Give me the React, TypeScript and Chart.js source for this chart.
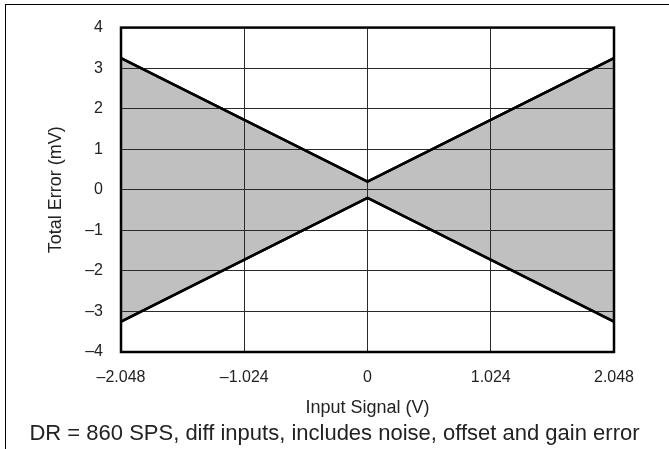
import React, { useEffect, useRef } from "react";
import { Chart, registerables } from "chart.js";

Chart.register(...registerables);

const xTicks = [-2.048, -1.024, 0, 1.024, 2.048];
const yTicks = [-4, -3, -2, -1, 0, 1, 2, 3, 4];
const upperX = [-2.048, 0, 2.048];
const upperY = [3.25, 0.2, 3.25];
const lowerX = [-2.048, 0, 2.048];
const lowerY = [-3.25, -0.2, -3.25];
const xTitle = "Input Signal (V)";
const yTitle = "Total Error (mV)";
const caption = "DR = 860 SPS, diff inputs, includes noise, offset and gain error";

const FONT = "'Liberation Sans', Arial, Helvetica, sans-serif";
const TEXT = "#222222";

const fmt = (v: number) => {
  const s = v === 0 ? "0" : Math.abs(v) % 1 === 0 ? String(Math.abs(v)) : Math.abs(v).toFixed(3);
  return v < 0 ? "\u2013" + s : s;
};

const frame = {
  id: "frame",
  afterDraw(chart: any) {
    const { ctx, chartArea } = chart;
    ctx.save();
    // redraw the data lines on top of the grid
    chart.data.datasets.forEach((_: any, i: number) => {
      const meta = chart.getDatasetMeta(i);
      const pts = meta.data;
      ctx.beginPath();
      pts.forEach((p: any, j: number) => (j === 0 ? ctx.moveTo(p.x, p.y) : ctx.lineTo(p.x, p.y)));
      ctx.strokeStyle = "#000";
      ctx.lineWidth = 2.5;
      ctx.lineJoin = "miter";
      ctx.stroke();
    });
    ctx.strokeStyle = "#000";
    ctx.lineWidth = 2.5;
    ctx.strokeRect(chartArea.left, chartArea.top, chartArea.right - chartArea.left, chartArea.bottom - chartArea.top);
    ctx.fillStyle = TEXT;
    ctx.font = `22px ${FONT}`;
    ctx.textAlign = "center";
    ctx.textBaseline = "middle";
    ctx.fillText(caption, chart.width / 2, 434);
    ctx.restore();
  },
};

export default function App() {
  const ref = useRef<HTMLCanvasElement>(null);
  useEffect(() => {
    document.body.style.margin = "0";
    const upper = upperX.map((x, i) => ({ x, y: upperY[i] }));
    const lower = lowerX.map((x, i) => ({ x, y: lowerY[i] }));
    const chart = new Chart(ref.current!, {
      type: "line",
      data: {
        datasets: [
          {
            data: upper,
            borderColor: "#000",
            borderWidth: 2.5,
            pointRadius: 0,
            fill: false,
            tension: 0,
          },
          {
            data: lower,
            borderColor: "#000",
            borderWidth: 2.5,
            pointRadius: 0,
            fill: "-1",
            backgroundColor: "#c0c0c0",
            tension: 0,
          },
        ],
      },
      options: {
        animation: false,
        responsive: false,
        maintainAspectRatio: false,
        layout: { padding: { left: 0, right: 55, top: 19, bottom: 31 } },
        plugins: { legend: { display: false }, tooltip: { enabled: false } },
        scales: {
          x: {
            type: "linear",
            min: -2.048,
            max: 2.048,
            afterBuildTicks: (s: any) => {
              s.ticks = xTicks.map((v) => ({ value: v }));
            },
            afterFit: (s: any) => {
              s.height = 66;
            },
            ticks: {
              callback: (v: any) => fmt(Number(v)),
              font: { family: FONT, size: 16 },
              color: TEXT,
              padding: 16,
              maxRotation: 0,
              autoSkip: false,
            },
            grid: { color: "#2a2a2a", lineWidth: 1, drawTicks: false, z: 1 },
            border: { display: false },
            title: {
              display: true,
              text: xTitle,
              font: { family: FONT, size: 18 },
              color: TEXT,
              padding: { top: 0, bottom: -1 },
            },
          },
          y: {
            type: "linear",
            min: -4,
            max: 4,
            afterBuildTicks: (s: any) => {
              s.ticks = yTicks.map((v) => ({ value: v }));
            },
            afterFit: (s: any) => {
              s.width = 121;
            },
            ticks: {
              callback: (v: any) => fmt(Number(v)),
              font: { family: FONT, size: 16 },
              color: TEXT,
              padding: 18,
              autoSkip: false,
            },
            grid: { color: "#2a2a2a", lineWidth: 1, drawTicks: false, z: 1 },
            border: { display: false },
            title: {
              display: true,
              text: yTitle,
              font: { family: FONT, size: 18 },
              color: TEXT,
              padding: { top: 45, bottom: 0 },
            },
          },
        },
      },
      plugins: [frame],
    });
    return () => chart.destroy();
  }, []);
  return (
    <div style={{ position: "relative", width: 669, height: 449, overflow: "hidden" }}>
      <canvas ref={ref} width={669} height={449} style={{ display: "block" }} />
      <div
        style={{
          position: "absolute",
          left: 5,
          top: 4,
          width: 700,
          height: 500,
          borderLeft: "1.5px solid #000",
          borderTop: "1.5px solid #000",
          pointerEvents: "none",
        }}
      />
    </div>
  );
}
